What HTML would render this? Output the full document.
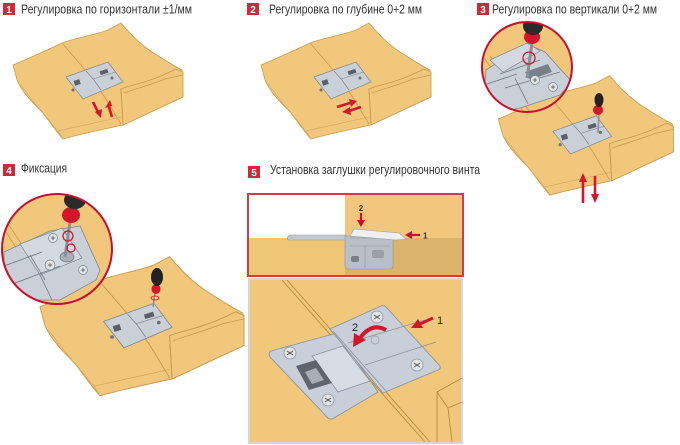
<!DOCTYPE html>
<html><head><meta charset="utf-8">
<style>
html,body{margin:0;padding:0;background:#fff;}
svg{display:block;}
.t{font-family:"Liberation Sans Narrow","Liberation Sans",sans-serif;font-size:12.5px;fill:#333;}
.b{font-family:"Liberation Sans",sans-serif;font-size:10px;font-weight:bold;fill:#fff;}
</style></head><body>
<svg width="680" height="445" viewBox="0 0 680 445" xmlns="http://www.w3.org/2000/svg">
<defs>
<g id="board">
  <path d="M13,65 C25,60 45,51 62,43 C75,38 95,35 108,30 L121,23 C130,34 140,44 152,52 C163,59 172,65 182,70 L183,97 L123,125 C100,130 80,134 63,139 C55,130 50,122 42,112 C32,102 22,92 17,80 Z" fill="#f1c77b" stroke="#c99b4f" stroke-width="0.8"/>
  <path d="M20,84 C30,98 42,112 52,124 C56,129 60,133 63,139" fill="none" stroke="#d1a55a" stroke-width="0.6"/>
  <path d="M58,131 L121,117" fill="none" stroke="#d1a55a" stroke-width="0.6"/>
  <path d="M121,89 C130,85 140,84 150,80 C160,77 170,72 176,69 L183,72 L183,97 L123,125 Z" fill="#f1c77b" stroke="#c99b4f" stroke-width="0.8"/>
  <path d="M121,89 L123,125" stroke="#c99b4f" stroke-width="0.8"/>
  <path d="M124,93 C135,89 150,85 165,79 L183,75" fill="none" stroke="#c99b4f" stroke-width="0.7"/>
  <path d="M62,43 L87,72 L104,96 L121,124" fill="none" stroke="#c99b4f" stroke-width="0.8"/>
  <path d="M66,77 L108,62 L123,82 L83,99 Z" fill="#c9d0d8" stroke="#7e8792" stroke-width="0.7"/>
  <path d="M86,71 L94,80 L101,90" fill="none" stroke="#7e8792" stroke-width="0.7"/>
  <path d="M93,79 L116,72" fill="none" stroke="#7e8792" stroke-width="0.6"/>
  <rect x="74" y="80" width="6" height="5" fill="#5a6068" transform="rotate(-18 77 82)"/>
  <rect x="100" y="70" width="8" height="4" fill="#5a6068" transform="rotate(-18 104 72)"/>
  <circle cx="73" cy="90" r="1.5" fill="#6a7078"/>
  <circle cx="112" cy="78" r="1.5" fill="#6a7078"/>
</g>
<clipPath id="c3"><circle cx="527" cy="67" r="45"/></clipPath>
<clipPath id="c4"><circle cx="57" cy="249" r="55"/></clipPath>
</defs>

<!-- Titles -->
<rect x="3" y="3" width="12" height="12" fill="#cf2a3c"/><text class="b" x="9" y="13" text-anchor="middle">1</text>
<text class="t" x="21" y="13.5" textLength="171" lengthAdjust="spacingAndGlyphs">Регулировка по горизонтали ±1/мм</text>
<rect x="247" y="3" width="12" height="12" fill="#cf2a3c"/><text class="b" x="253" y="13" text-anchor="middle">2</text>
<text class="t" x="269" y="13.5" textLength="153" lengthAdjust="spacingAndGlyphs">Регулировка по глубине 0+2 мм</text>
<rect x="477" y="3" width="12" height="12" fill="#cf2a3c"/><text class="b" x="483" y="13" text-anchor="middle">3</text>
<text class="t" x="492" y="13.5" textLength="165" lengthAdjust="spacingAndGlyphs">Регулировка по вертикали 0+2 мм</text>
<rect x="3" y="164" width="12" height="12" fill="#cf2a3c"/><text class="b" x="9" y="174" text-anchor="middle">4</text>
<text class="t" x="21" y="172.5" textLength="46" lengthAdjust="spacingAndGlyphs">Фиксация</text>
<rect x="248" y="166" width="12" height="12" fill="#cf2a3c"/><text class="b" x="254" y="176" text-anchor="middle">5</text>
<text class="t" x="270" y="174" textLength="210" lengthAdjust="spacingAndGlyphs">Установка заглушки регулировочного винта</text>

<!-- Panel 1 -->
<use href="#board"/>
<g stroke="#d2162c" stroke-width="2.6" fill="#d2162c">
  <line x1="93" y1="102" x2="98" y2="112"/><polygon points="95,112 102,109 101,118" stroke="none"/>
  <line x1="112" y1="117" x2="109" y2="107"/><polygon points="105,108 112,106 110,100" stroke="none"/>
</g>

<!-- Panel 2 -->
<use href="#board" transform="translate(248,0)"/>
<g stroke="#d2162c" stroke-width="2.6" fill="#d2162c">
  <line x1="337" y1="107" x2="350" y2="103"/><polygon points="349,99 357,101 351,107" stroke="none"/>
  <line x1="361" y1="107" x2="349" y2="111"/><polygon points="350,107 342,112 351,115" stroke="none"/>
</g>

<!-- Panel 3 -->
<use href="#board" transform="translate(485,52) scale(1.03)"/>
<g>
  <line x1="598" y1="133" x2="599" y2="113" stroke="#8a9098" stroke-width="1.5"/>
  <ellipse cx="598" cy="110" rx="5" ry="5" fill="#d2162c"/>
  <ellipse cx="599" cy="100" rx="4.5" ry="7" fill="#222"/>
</g>
<g stroke="#d2162c" stroke-width="2.6" fill="#d2162c">
  <line x1="583" y1="203" x2="583" y2="181"/><polygon points="579,182 587,182 583,173" stroke="none"/>
  <line x1="595" y1="176" x2="595" y2="195"/><polygon points="591,194 599,194 595,203" stroke="none"/>
</g>
<g clip-path="url(#c3)">
  <rect x="480" y="20" width="95" height="95" fill="#f1c77b"/>
  <path d="M484,58 L524,112 M490,56 L530,112" stroke="#c99b4f" stroke-width="0.8" fill="none"/>
  <path d="M486,70 L527,44 L545,52 L572,82 L560,95 L520,108 L500,112 L484,95 Z" fill="#c9d0d8" stroke="#7e8792" stroke-width="0.8"/>
  <path d="M490,60 L527,43 L540,51 L503,72 Z" fill="#d3d9e0" stroke="#7e8792" stroke-width="0.7"/>
  <path d="M500,74 L540,60 M505,88 L560,72 M515,78 L528,104 M487,84 L517,74" stroke="#6e7680" stroke-width="0.8" fill="none"/>
  <path d="M525,72 L548,64 L552,72 L530,80 Z" fill="#7a8089"/>
  <circle cx="535" cy="80" r="4.5" fill="#dfe3e8" stroke="#7e8792" stroke-width="0.7"/>
  <circle cx="553" cy="87" r="4.5" fill="#dfe3e8" stroke="#7e8792" stroke-width="0.7"/>
  <path d="M533,80 h4 M535,78 v4 M551,87 h4 M553,85 v4" stroke="#555" stroke-width="0.8"/>
  <line x1="532" y1="43" x2="527" y2="78" stroke="#8a9098" stroke-width="3"/>
  <circle cx="529" cy="58" r="6" fill="none" stroke="#d2162c" stroke-width="1.3"/>
  <ellipse cx="532" cy="37" rx="8" ry="7" fill="#d2162c"/>
  <ellipse cx="533" cy="26" rx="10" ry="9" fill="#2a2a2a"/>
</g>
<circle cx="527" cy="67" r="45" fill="none" stroke="#c8102e" stroke-width="2"/>

<!-- Panel 4 -->
<use href="#board" transform="translate(24.4,229) scale(1.2)"/>
<g>
  <line x1="153" y1="307" x2="155" y2="293" stroke="#8a9098" stroke-width="1.5"/>
  <ellipse cx="156" cy="289" rx="4.5" ry="5" fill="#d2162c"/>
  <ellipse cx="157" cy="277" rx="6" ry="9" fill="#222"/>
  <ellipse cx="155" cy="298" rx="4" ry="2" fill="none" stroke="#d2162c" stroke-width="0.8"/>
</g>
<g clip-path="url(#c4)">
  <rect x="0" y="192" width="115" height="115" fill="#f1c77b"/>
  <path d="M0,223 L48,296 M5,219 L53,292" stroke="#c99b4f" stroke-width="0.8" fill="none"/>
  <path d="M4,252 L50,231 L80,226 L100,270 L96,280 L60,300 L4,300 Z" fill="#c9d0d8" stroke="#7e8792" stroke-width="0.8"/>
  <path d="M20,244 L62,228 L82,258 L40,275 Z" fill="#d3d9e0" stroke="#7e8792" stroke-width="0.7"/>
  <path d="M4,266 L42,252 M10,285 L60,266 M40,275 L52,300 M30,255 L45,280" stroke="#6e7680" stroke-width="0.8" fill="none"/>
  <circle cx="53" cy="238" r="4.5" fill="#dfe3e8" stroke="#7e8792" stroke-width="0.7"/>
  <circle cx="50" cy="265" r="5" fill="#dfe3e8" stroke="#7e8792" stroke-width="0.7"/>
  <circle cx="83" cy="270" r="4.5" fill="#dfe3e8" stroke="#7e8792" stroke-width="0.7"/>
  <path d="M51,238 h4 M53,236 v4 M48,265 h4 M50,263 v4 M81,270 h4 M83,268 v4" stroke="#555" stroke-width="0.8"/>
  <ellipse cx="67" cy="257" rx="7" ry="5" fill="#a9b0b8" stroke="#6e7680" stroke-width="0.7"/>
  <line x1="70" y1="222" x2="65" y2="257" stroke="#8a9098" stroke-width="3"/>
  <circle cx="68" cy="236" r="5" fill="none" stroke="#d2162c" stroke-width="1.3"/>
  <circle cx="71" cy="248" r="4" fill="none" stroke="#d2162c" stroke-width="1.3"/>
  <ellipse cx="71" cy="215" rx="9" ry="8" fill="#d2162c"/>
  <ellipse cx="75" cy="200" rx="11" ry="9" fill="#2a2a2a"/>
</g>
<circle cx="57" cy="249" r="55" fill="none" stroke="#c8102e" stroke-width="2"/>

<!-- Panel 5 top box -->
<rect x="249" y="195" width="213" height="43" fill="#fff"/>
<rect x="345" y="195" width="117" height="43" fill="#f0c77c"/>
<rect x="249" y="238" width="96" height="37" fill="#efc676"/>
<rect x="345" y="238" width="117" height="37" fill="#dcb36a"/>
<path d="M288,240 Q286,237 290,235 L346,235 L346,240 Z" fill="#c3c9d0" stroke="#8b939d" stroke-width="0.6"/>
<path d="M345,236 L393,236 L393,266 Q393,269 390,269 L348,269 Q345,269 345,266 Z" fill="#b9bfc7" stroke="#8b939d" stroke-width="0.6"/>
<path d="M350,238 L390,238 M350,246 L390,246 M365,246 L365,268" stroke="#8b939d" stroke-width="0.6"/>
<rect x="351" y="256" width="8" height="6" rx="2" fill="#7a8089"/>
<rect x="372" y="250" width="12" height="8" rx="2" fill="#9aa0a8"/>
<path d="M350,236 L354,229 L399,233 L406,239 L396,240 Z" fill="#eef0f2" stroke="#9aa0a8" stroke-width="0.6"/>
<text x="361" y="211" font-family="Liberation Sans,sans-serif" font-size="8" font-weight="bold" fill="#333" text-anchor="middle">2</text>
<line x1="361" y1="213" x2="361" y2="221" stroke="#c8102e" stroke-width="2.2"/>
<polygon points="357,220 365,220 361,227" fill="#c8102e"/>
<line x1="420" y1="235" x2="411" y2="235" stroke="#c8102e" stroke-width="2.2"/>
<polygon points="412,231 412,239 405,235" fill="#c8102e"/>
<text x="423" y="238.5" font-family="Liberation Sans,sans-serif" font-size="8" font-weight="bold" fill="#333">1</text>
<rect x="248" y="194" width="215" height="82" fill="none" stroke="#d23a4a" stroke-width="2"/>

<!-- Panel 5 bottom box -->
<rect x="249" y="279" width="213" height="164" fill="#f1c77b" stroke="#d6d6d6" stroke-width="2"/>
<path d="M282,280 L425,442 M287,280 L430,442" stroke="#b8893a" stroke-width="0.9" fill="none"/>
<path d="M437,392 L462,378 M437,392 L448,408 L462,402 M448,408 L452,442 M437,392 L437,442" stroke="#b8893a" stroke-width="0.9" fill="none"/>
<path d="M271,351 Q268,353 270,357 L328,418 Q331,420 334,418 L378,392 L337,333 Z" fill="#c8cfd8" stroke="#8b939d" stroke-width="0.9"/>
<path d="M330,329 L381,306 Q384,305 386,307 L440,366 Q441,369 438,370 L383,393 Z" fill="#c8cfd8" stroke="#8b939d" stroke-width="0.9"/>
<path d="M312,356 L343,346 L370,381 L338,392 Z" fill="#d6dce3" stroke="#8b939d" stroke-width="0.8"/>
<path d="M348,343 L425,320 M365,365 L436,342 M333,331 L386,391" stroke="#8b939d" stroke-width="0.8" fill="none"/>
<path d="M296,366 L316,360 L332,383 L309,390 Z" fill="#5f656d"/>
<path d="M305,372 L316,368 L324,380 L312,384 Z" fill="#a8aeb6"/>
<g fill="#e1e5ea" stroke="#8b939d" stroke-width="0.8">
  <circle cx="290" cy="353" r="6"/><circle cx="328" cy="400" r="6"/>
  <circle cx="377" cy="317" r="6"/><circle cx="417" cy="365" r="6"/>
</g>
<path d="M287,351 l6,4 M293,351 l-6,4 M325,398 l6,4 M331,398 l-6,4 M374,315 l6,4 M380,315 l-6,4 M414,363 l6,4 M420,363 l-6,4" stroke="#555" stroke-width="1"/>
<circle cx="375" cy="340" r="4" fill="none" stroke="#9aa0a8" stroke-width="0.7"/>
<path d="M386,330 Q372,322 360,338" fill="none" stroke="#d2162c" stroke-width="4"/>
<polygon points="354,333 366,340 353,347" fill="#d2162c"/>
<text x="352" y="331" font-family="Liberation Sans,sans-serif" font-size="11" fill="#222">2</text>
<line x1="433" y1="318" x2="420" y2="324" stroke="#d2162c" stroke-width="3"/>
<polygon points="418,319 423,328 411,328" fill="#d2162c"/>
<text x="437" y="324" font-family="Liberation Sans,sans-serif" font-size="11" fill="#222">1</text>
</svg>
</body></html>
